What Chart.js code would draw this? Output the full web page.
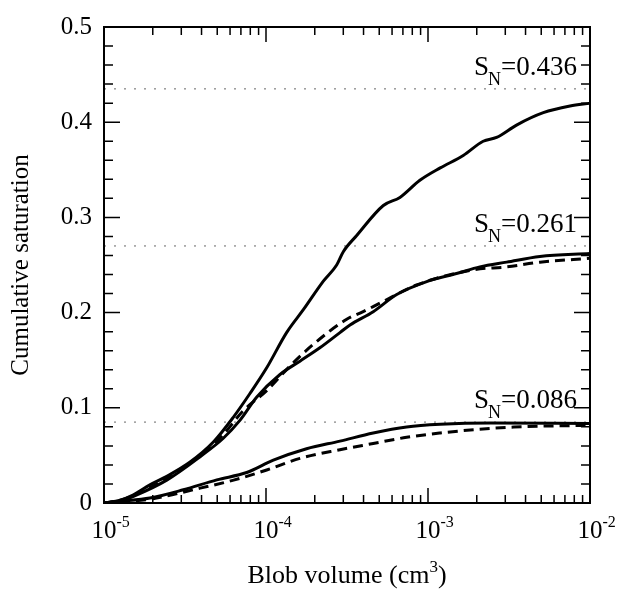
<!DOCTYPE html>
<html lang="en">
  <head>
    <meta charset="UTF-8" />
    <title>Cumulative saturation vs blob volume</title>
    <script src="https://cdn.jsdelivr.net/npm/chart.js"></script>
    <style>
      html, body { margin: 0; padding: 0; background: #fff; }
    </style>
  </head>
  <body>
    <canvas id="chart" width="623" height="589"></canvas>

    <script>
      // S_N = 0.436 (solid)
      const volA = [1e-5, 1.26e-5, 1.52e-5, 1.92e-5, 2.44e-5, 3.4e-5, 4.73e-5, 6.28e-5, 7.96e-5, 1.01e-4, 1.34e-4, 1.7e-4, 2.26e-4, 2.73e-4, 3.0e-4, 3.63e-4, 5.3e-4, 6.71e-4, 8.91e-4, 1.19e-3, 1.65e-3, 2.19e-3, 2.65e-3, 3.52e-3, 5.15e-3, 7.53e-3, 1e-2];
      const satA = [0, 0.003, 0.0086, 0.019, 0.028, 0.043, 0.064, 0.09, 0.115, 0.142, 0.179, 0.203, 0.233, 0.25, 0.264, 0.281, 0.3125, 0.321, 0.339, 0.352, 0.365, 0.38, 0.384, 0.397, 0.41, 0.417, 0.42];

      // S_N = 0.261 (solid)
      const volB = [1e-5, 1.26e-5, 1.52e-5, 2.44e-5, 3.92e-5, 5.45e-5, 6.92e-5, 8.75e-5, 1.22e-4, 1.62e-4, 2.15e-4, 2.86e-4, 3.3e-4, 4.59e-4, 6.41e-4, 9.82e-4, 1.5e-3, 2.09e-3, 3.06e-3, 4.91e-3, 1e-2];
      const satB = [0, 0.002, 0.007, 0.024, 0.0486, 0.068, 0.087, 0.111, 0.135, 0.149, 0.163, 0.179, 0.187, 0.201, 0.219, 0.2326, 0.241, 0.248, 0.253, 0.259, 0.262];

      // S_N = 0.261 (dashed)
      const volBd = [1e-5, 1.26e-5, 1.52e-5, 2.44e-5, 3.92e-5, 5.45e-5, 7.24e-5, 1.01e-4, 1.41e-4, 1.96e-4, 3.15e-4, 3.98e-4, 5.06e-4, 8.51e-4, 1.91e-3, 3.06e-3, 4.91e-3, 1e-2];
      const satBd = [0, 0.003, 0.008, 0.026, 0.05, 0.072, 0.097, 0.118, 0.144, 0.1667, 0.193, 0.201, 0.21, 0.229, 0.245, 0.248, 0.253, 0.257];

      // S_N = 0.086 (solid)
      const volC = [1e-5, 1.26e-5, 1.92e-5, 3.09e-5, 4.97e-5, 7.6e-5, 1.11e-4, 1.78e-4, 2.86e-4, 4.59e-4, 7.38e-4, 1.19e-3, 2.42e-3, 1e-2];
      const satC = [0, 0.0017, 0.0052, 0.0139, 0.0243, 0.032, 0.045, 0.057, 0.065, 0.0735, 0.0798, 0.0826, 0.084, 0.0835];

      // S_N = 0.086 (dashed)
      const volCd = [1e-5, 1.92e-5, 3.92e-5, 6.31e-5, 1.01e-4, 1.62e-4, 2.86e-4, 4.59e-4, 7.38e-4, 1.19e-3, 1.91e-3, 3.39e-3, 1e-2];
      const satCd = [0, 0.004, 0.0156, 0.024, 0.0347, 0.0469, 0.056, 0.0625, 0.069, 0.0735, 0.077, 0.0798, 0.0816];

      // horizontal dotted reference lines and their labels
      const levelValues = [0.435, 0.27, 0.085];
      const levelLabels = ["0.436", "0.261", "0.086"];

      // axis ticks
      const xDecades = [-5, -4, -3, -2];
      const yTicks = [0, 0.1, 0.2, 0.3, 0.4, 0.5];
      const yTickLabels = ["0", "0.1", "0.2", "0.3", "0.4", "0.5"];

      const serif = "'Liberation Serif', 'Times New Roman', serif";

      function pts(xs, ys) {
        return xs.map((x, i) => ({ x: x, y: ys[i] }));
      }

      const curveStyle = {
        borderColor: "#000",
        borderWidth: 3,
        pointRadius: 0,
        fill: false,
        cubicInterpolationMode: "monotone",
      };

      const datasets = [
        { ...curveStyle, data: pts(volA, satA) },
        { ...curveStyle, data: pts(volB, satB) },
        { ...curveStyle, data: pts(volBd, satBd), borderDash: [10, 6] },
        { ...curveStyle, data: pts(volC, satC) },
        { ...curveStyle, data: pts(volCd, satCd), borderDash: [10, 6] },
      ];
      levelValues.forEach((v) => {
        datasets.push({
          data: [{ x: 1e-5, y: v }, { x: 1e-2, y: v }],
          borderColor: "#666",
          borderWidth: 1,
          borderDash: [2, 8],
          pointRadius: 0,
          fill: false,
        });
      });

      // frame, inward ticks and the text with super/subscripts
      const framePlugin = {
        id: "frame",
        afterDraw(chart) {
          const { ctx, chartArea: a } = chart;
          const xs = chart.scales.x;
          const ys = chart.scales.y;
          ctx.save();
          ctx.strokeStyle = "#000";
          ctx.lineWidth = 2;
          ctx.strokeRect(a.left, a.top, a.right - a.left, a.bottom - a.top);

          ctx.lineWidth = 1.5;
          ctx.beginPath();
          xDecades.forEach((d, i) => {
            const base = Math.pow(10, d);
            const px = xs.getPixelForValue(base);
            ctx.moveTo(px, a.bottom); ctx.lineTo(px, a.bottom - 15);
            ctx.moveTo(px, a.top); ctx.lineTo(px, a.top + 15);
            if (i < xDecades.length - 1) {
              for (let k = 2; k <= 9; k++) {
                const p = xs.getPixelForValue(k * base);
                ctx.moveTo(p, a.bottom); ctx.lineTo(p, a.bottom - 8);
                ctx.moveTo(p, a.top); ctx.lineTo(p, a.top + 8);
              }
            }
          });
          for (let i = 0; i <= 25; i++) {
            const py = ys.getPixelForValue(i * 0.02);
            const len = i % 5 === 0 ? 16 : 9;
            ctx.moveTo(a.left, py); ctx.lineTo(a.left + len, py);
            ctx.moveTo(a.right, py); ctx.lineTo(a.right - len, py);
          }
          ctx.stroke();

          ctx.fillStyle = "#000";
          ctx.textBaseline = "alphabetic";

          // x tick labels 10^n
          xDecades.forEach((d) => {
            const px = xs.getPixelForValue(Math.pow(10, d));
            ctx.font = "25px " + serif;
            ctx.textAlign = "center";
            ctx.fillText("10", px, 538);
            const w = ctx.measureText("10").width;
            ctx.font = "16px " + serif;
            ctx.textAlign = "left";
            ctx.fillText("-" + Math.abs(d), px + w / 2, 527);
          });

          // x title
          ctx.font = "26px " + serif;
          const t1 = "Blob volume (cm";
          const w1 = ctx.measureText(t1).width;
          const w3 = ctx.measureText(")").width;
          ctx.font = "17px " + serif;
          const w2 = ctx.measureText("3").width;
          const cx = (a.left + a.right) / 2;
          let x0 = cx - (w1 + w2 + w3) / 2;
          ctx.textAlign = "left";
          ctx.font = "26px " + serif;
          ctx.fillText(t1, x0, 583);
          ctx.font = "17px " + serif;
          ctx.fillText("3", x0 + w1, 572);
          ctx.font = "26px " + serif;
          ctx.fillText(")", x0 + w1 + w2, 583);

          // S_N labels
          levelValues.forEach((v, i) => {
            const by = ys.getPixelForValue(v) - 14;
            const right = a.right - 13;
            ctx.font = "27px " + serif;
            const rest = "=" + levelLabels[i];
            const wr = ctx.measureText(rest).width;
            const ws = ctx.measureText("S").width;
            ctx.font = "18px " + serif;
            const wn = ctx.measureText("N").width;
            ctx.textAlign = "left";
            ctx.font = "27px " + serif;
            ctx.fillText(rest, right - wr, by);
            ctx.font = "18px " + serif;
            ctx.fillText("N", right - wr - wn, by + 10);
            ctx.font = "27px " + serif;
            ctx.fillText("S", right - wr - wn - ws + 1, by);
          });
          ctx.restore();
        },
      };

      new Chart(document.getElementById("chart"), {
        type: "line",
        data: { datasets },
        plugins: [framePlugin],
        options: {
          responsive: false,
          animation: false,
          devicePixelRatio: 1,
          layout: { padding: { top: 23, right: 33, left: 0, bottom: 0 } },
          plugins: { legend: { display: false }, tooltip: { enabled: false } },
          scales: {
            x: {
              type: "logarithmic",
              min: 1e-5,
              max: 1e-2,
              ticks: { display: false },
              grid: { display: false, drawTicks: false },
              border: { display: false },
              afterFit: (s) => { s.height = 86; },
            },
            y: {
              type: "linear",
              min: 0,
              max: 0.5,
              afterBuildTicks: (s) => { s.ticks = yTicks.map((v) => ({ value: v })); },
              ticks: {
                callback: (v, i) => yTickLabels[i],
                padding: 12,
                color: "#000",
                font: { family: serif, size: 25 },
              },
              grid: { display: false, drawTicks: false },
              border: { display: false },
              title: {
                display: true,
                text: "Cumulative saturation",
                color: "#000",
                font: { family: serif, size: 25 },
                padding: { top: 6, bottom: 0 },
              },
              afterFit: (s) => { s.width = 104; },
            },
          },
        },
      });
    </script>
  </body>
</html>
